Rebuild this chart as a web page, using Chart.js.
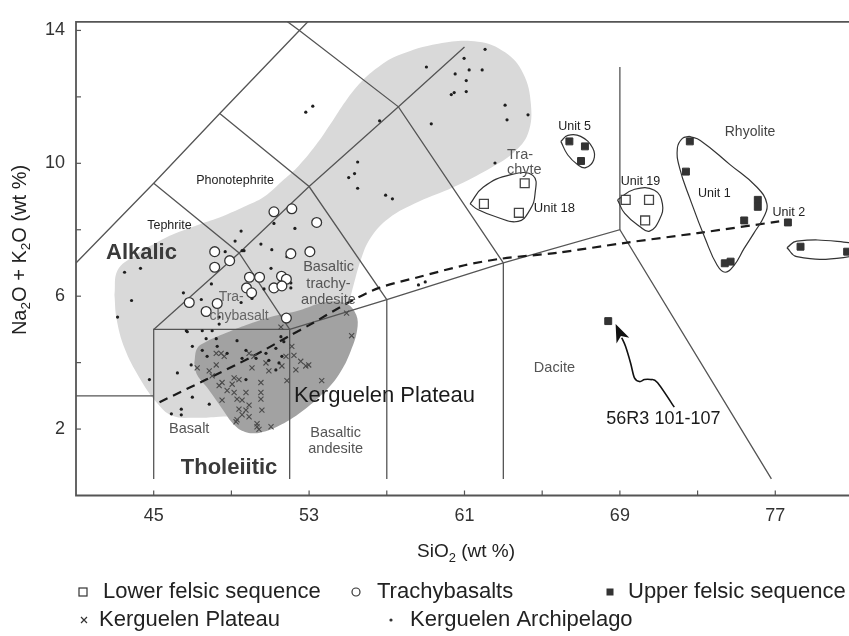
<!DOCTYPE html>
<html><head><meta charset="utf-8">
<script src="https://cdn.jsdelivr.net/npm/chart.js@4/dist/chart.umd.min.js"></script>
<style>html,body{margin:0;padding:0;background:#fff;overflow:hidden}#wrap{width:880px;height:636px}</style>
</head><body><div id="wrap"><canvas id="c" width="880" height="636" style="width:880px;height:636px"></canvas></div>
<script>
// ---------------- DATA (SiO2 wt%, Na2O+K2O wt%) ----------------
const xTickValues = [45,49,53,57,61,65,69,73,77,81];
const xLabelValues = [45,53,61,69,77];
const yTickValues = [2,4,6,8,10,12,14];
const yLabelValues = [2,6,10,14];

const lowerFelsic = [[64.1,9.40],[62.0,8.78],[63.8,8.51],[69.3,8.90],[70.5,8.90],[70.3,8.28]];
const upperFelsic = [[66.4,10.66],[67.2,10.51],[67.0,10.07],[72.6,10.66],[72.4,9.75],[76.1,8.90],[76.1,8.69],[75.4,8.28],[74.7,7.04],[74.4,6.99],[77.65,8.22],[78.3,7.49],[80.7,7.34],[68.4,5.25]];
const trachybasalts = [[51.19,8.54],[52.11,8.63],[53.39,8.22],[52.06,7.28],[53.04,7.34],[48.14,7.34],[48.91,7.07],[48.14,6.87],[49.93,6.57],[50.45,6.57],[51.58,6.60],[51.83,6.51],[49.78,6.25],[50.04,6.10],[51.19,6.25],[51.60,6.31],[46.83,5.81],[48.27,5.78],[47.70,5.54],[51.83,5.34]];
const kerguelenPlateau = [[47.24,3.84],[47.86,3.75],[48.22,4.28],[48.63,4.19],[48.52,3.40],[49.04,3.35],[48.78,3.16],[49.14,3.10],[48.52,2.87],[49.29,2.90],[49.75,3.10],[49.55,2.87],[49.91,2.72],[49.39,2.60],[49.75,2.57],[49.55,2.43],[49.29,2.28],[49.91,2.37],[50.52,3.40],[50.52,3.10],[50.52,2.90],[50.57,2.57],[50.32,2.16],[50.42,1.99],[51.04,2.07],[50.32,2.07],[49.91,4.28],[50.16,4.19],[50.78,3.99],[50.93,3.75],[51.60,3.90],[51.86,3.46],[52.22,4.22],[52.57,4.04],[52.83,3.90],[52.32,3.78],[52.98,3.93],[53.65,3.46],[54.93,5.49],[55.19,4.81],[51.55,5.07],[48.22,3.93],[49.14,3.54],[48.37,3.31],[48.01,3.60],[49.24,2.22],[51.81,4.19],[52.11,4.49],[48.47,4.28],[50.06,3.84],[49.39,3.49]];
const kerguelenArchipelago = [[62.06,13.43],[60.98,13.16],[61.24,12.81],[60.52,12.69],[61.91,12.81],[61.09,12.49],[59.04,12.90],[60.32,12.07],[60.47,12.13],[61.09,12.16],[63.09,11.75],[63.19,11.31],[64.27,11.46],[59.29,11.19],[56.63,11.28],[53.19,11.72],[52.83,11.54],[62.57,10.01],[55.50,10.04],[55.34,9.69],[55.04,9.57],[55.50,9.25],[56.94,9.04],[57.29,8.93],[52.27,8.04],[49.50,7.96],[51.19,8.19],[50.52,7.57],[51.08,7.40],[51.86,7.19],[49.55,7.37],[51.04,6.84],[52.06,6.40],[52.06,6.25],[50.68,6.22],[50.06,5.93],[58.63,6.34],[58.98,6.43],[49.19,7.66],[48.68,7.34],[43.50,6.72],[44.32,6.84],[47.97,6.37],[46.53,6.10],[47.45,5.90],[49.50,5.81],[43.86,5.87],[43.14,5.37],[46.68,4.96],[47.50,4.96],[48.01,4.96],[44.78,3.49],[45.91,2.46],[46.42,2.43],[46.42,2.60],[46.22,3.69],[46.93,3.93],[46.99,4.49],[46.73,4.93],[47.70,4.72],[48.22,4.72],[48.27,4.49],[47.75,4.19],[47.50,4.37],[49.29,4.66],[48.78,4.28],[49.55,4.13],[49.75,3.49],[49.75,4.37],[50.27,4.13],[50.78,4.28],[50.93,4.07],[51.29,4.43],[51.60,4.19],[51.45,3.99],[51.29,3.78],[51.70,4.63],[51.55,4.78],[46.99,2.96],[47.86,2.75],[48.37,5.37],[48.37,5.16],[49.65,7.37]];

// Fields (shaded envelopes)
const archipelagoField = [[42.98,6.04],[43.14,6.78],[44.01,7.22],[45.29,7.66],[46.16,7.90],[47.34,8.16],[48.52,8.40],[49.65,8.69],[50.68,8.99],[51.70,9.51],[52.47,9.93],[53.34,10.54],[54.11,11.19],[54.88,11.87],[55.70,12.46],[56.57,12.90],[57.60,13.25],[59.65,13.60],[61.70,13.66],[63.09,13.34],[64.01,12.72],[64.42,11.78],[64.27,10.90],[63.50,10.31],[62.37,9.87],[60.42,9.28],[58.63,8.84],[57.09,8.34],[56.16,7.75],[55.65,7.07],[55.29,6.34],[54.93,5.60],[54.01,4.43],[52.47,3.10],[49.91,2.46],[48.37,2.37],[47.09,2.34],[45.96,2.40],[45.14,2.81],[44.27,3.54],[43.50,4.43],[43.09,5.31]];
const plateauField = [[47.09,3.99],[47.24,4.43],[47.70,4.63],[48.88,4.93],[49.91,5.16],[51.19,5.40],[52.47,5.57],[53.75,5.81],[54.78,5.81],[55.34,5.54],[55.50,5.10],[55.14,4.34],[54.52,3.63],[53.65,3.04],[52.47,2.46],[51.45,2.10],[50.52,1.90],[49.80,1.90],[49.19,2.10],[48.47,2.66],[47.75,3.25],[47.24,3.63]];

// TAS classification boundaries
const tasBoundaries = [
  [[41,7],[45,9.4],[48.4,11.5],[52.5,14],[53.0,14.3]],
  [[41,3],[45,3]],
  [[45,0.5],[45,5],[52,5],[52,0.5]],
  [[52,5],[57,5.9],[63,7],[69,8],[76.8,0.5]],
  [[57,0.5],[57,5.9]],
  [[63,0.5],[63,7]],
  [[69,8],[69,12.9]],
  [[45,5],[49.4,7.3],[53,9.3],[57.6,11.7],[61,13.5]],
  [[52,5],[49.4,7.3],[45,9.4]],
  [[57,5.9],[53,9.3],[48.4,11.5]],
  [[63,7],[57.6,11.7],[52.5,14],[51.8,14.3]]
];
const alkalineDivide = [[45.3,2.81],[47.7,3.49],[50.1,4.19],[52.0,4.81],[53.1,5.16],[55.0,5.80],[56.6,6.25],[58.6,6.57],[61.0,6.93],[62.9,7.13],[65.8,7.31],[69.2,7.60],[73.0,7.90],[77.2,8.25]];

// Group outlines
const unit5Outline = [[65.96,10.66],[66.32,10.84],[66.98,10.81],[67.60,10.46],[67.65,10.10],[67.24,9.87],[66.83,9.96],[66.32,10.25]];
const unit18Outline = [[61.29,8.78],[61.96,9.28],[63.39,9.66],[64.53,9.63],[64.63,9.07],[64.37,8.60],[63.76,8.25],[62.58,8.40],[61.71,8.60]];
const unit19Outline = [[68.88,8.90],[69.76,9.22],[70.78,9.19],[71.19,8.78],[71.04,8.31],[70.53,7.96],[70.02,8.10],[69.25,8.49]];
const unit1Outline = [[72.58,10.81],[73.14,10.69],[74.67,9.96],[76.06,9.28],[76.57,8.78],[76.42,8.40],[75.90,7.90],[75.39,7.43],[74.88,6.93],[74.42,6.72],[74.01,6.93],[73.40,7.72],[72.63,8.90],[72.07,9.87],[71.96,10.46],[72.22,10.75]];
const unit2Outline = [[77.60,7.46],[78.11,7.66],[80.51,7.63],[81.70,7.46],[80.51,7.16],[78.11,7.19]];

// Annotation arrow (56R3 101-107)
const arrowPath = [[71.80,2.66],[70.93,3.40],[70.57,3.49],[70.27,3.49],[70.01,3.43],[69.75,3.54],[69.55,3.99],[69.29,4.49],[68.78,5.16]];

// Text labels (positions in data units)
const fieldLabels = [
  {t:'Phonotephrite', x:49.19, y:9.49, s:12.5, c:'#222'},
  {t:'Tephrite', x:45.81, y:8.13, s:12.5, c:'#222'},
  {t:'Alkalic', x:44.37, y:7.31, s:22, b:true, c:'#3a3a3a'},
  {t:'Tholeiitic', x:48.88, y:0.84, s:22, b:true, c:'#3a3a3a'},
  {t:'Basalt', x:46.83, y:2.01, s:14.5, c:'#555'},
  {t:'Basaltic\nandesite', x:54.37, y:1.63, s:14.5, c:'#555', lh:16},
  {t:'Basaltic\ntrachy-\nandesite', x:54.0, y:6.37, s:14.5, c:'#555', lh:16.5},
  {t:'Dacite', x:65.63, y:3.84, s:14.5, c:'#555'},
  {t:'Tra-\nchyte', x:63.19, y:10.03, s:14.5, c:'#555', lh:15, a:'left'},
  {t:'Tra-', x:48.99, y:5.96, s:14, c:'#666'},
  {t:'chybasalt', x:49.40, y:5.40, s:14, c:'#666'},
  {t:'Rhyolite', x:75.70, y:10.93, s:14, c:'#444'},
  {t:'Unit 5', x:66.67, y:11.10, s:12.5, c:'#222'},
  {t:'Unit 19', x:70.06, y:9.46, s:12.5, c:'#222'},
  {t:'Unit 1', x:73.86, y:9.10, s:12.5, c:'#222'},
  {t:'Unit 2', x:77.70, y:8.51, s:12.5, c:'#222'},
  {t:'Unit 18', x:65.63, y:8.63, s:13, c:'#222'},
  {t:'Kerguelen Plateau', x:56.88, y:3.01, s:22, c:'#1a1a1a'},
  {t:'56R3 101-107', x:71.24, y:2.31, s:18, c:'#1a1a1a'}
];
const legendItems = [
  {label:'Lower felsic sequence', sym:'openSquare'},
  {label:'Trachybasalts', sym:'openCircle'},
  {label:'Upper felsic sequence', sym:'filledSquare'},
  {label:'Kerguelen Plateau', sym:'cross'},
  {label:'Kerguelen Archipelago', sym:'dot'}
];

// ---------------- RENDERING ----------------
const FONT = '"Liberation Sans", Arial, Helvetica, sans-serif';
const toXY = a => a.map(p => ({x:p[0], y:p[1]}));
const closed = a => toXY(a.concat([a[0]]));

const datasets = [];
datasets.push({data: closed(archipelagoField), borderColor:'rgba(0,0,0,0)', borderWidth:0, backgroundColor:'#d9d9d9', fill:'shape', tension:0.4, pointRadius:0, order:100});
datasets.push({data: closed(plateauField), borderColor:'rgba(0,0,0,0)', borderWidth:0, backgroundColor:'#a2a2a2', fill:'shape', tension:0.4, pointRadius:0, order:95});
tasBoundaries.forEach(pl => datasets.push({data: toXY(pl), borderColor:'#555', borderWidth:1.3, fill:false, tension:0, pointRadius:0, order:80}));
datasets.push({data: toXY(alkalineDivide), borderColor:'#1a1a1a', borderWidth:2.2, borderDash:[9,6], fill:false, tension:0.3, pointRadius:0, order:70});
[unit5Outline, unit18Outline, unit19Outline, unit1Outline, unit2Outline].forEach(o => datasets.push({data: closed(o), borderColor:'#333', borderWidth:1.2, fill:false, tension:0.45, pointRadius:0, order:60}));
datasets.push({data: toXY(kerguelenPlateau), showLine:false, pointStyle:'crossRot', pointRadius:3.6, pointBorderColor:'#4a4a4a', pointBorderWidth:1.1, pointBackgroundColor:'#4a4a4a', order:50});
datasets.push({data: toXY(kerguelenArchipelago), showLine:false, pointStyle:'circle', pointRadius:1.6, pointBorderWidth:0, pointBackgroundColor:'#1e1e1e', pointBorderColor:'#1e1e1e', order:40});
datasets.push({data: toXY(trachybasalts), showLine:false, pointStyle:'circle', pointRadius:4.9, pointBorderWidth:1.3, pointBackgroundColor:'#fff', pointBorderColor:'#333', order:30});
datasets.push({data: toXY(lowerFelsic), showLine:false, pointStyle:'rect', pointRadius:6.3, pointBorderWidth:1.3, pointBackgroundColor:'#fff', pointBorderColor:'#444', order:20});
datasets.push({data: toXY(upperFelsic), showLine:false, pointStyle:'rect', pointRadius:4.9, pointBorderWidth:1, pointBackgroundColor:'#333', pointBorderColor:'#333', order:20});

function drawRich(ctx, segs, cx, cy, size, rot, color) {
  ctx.save(); ctx.translate(cx, cy); ctx.rotate(rot);
  ctx.fillStyle = color; ctx.textBaseline = 'middle'; ctx.textAlign = 'left';
  let total = 0; const ws = [];
  segs.forEach(s => { ctx.font = (s.sub ? size*0.68 : size) + 'px ' + FONT; const w = ctx.measureText(s.t).width; ws.push(w); total += w; });
  let x = -total/2;
  segs.forEach((s,i) => { ctx.font = (s.sub ? size*0.68 : size) + 'px ' + FONT; ctx.fillText(s.t, x, s.sub ? size*0.32 : 0); x += ws[i]; });
  ctx.restore();
}

const decor = {
  id:'decor',
  afterDatasetsDraw(chart) {
    const {ctx, chartArea:ca, scales:{x, y}} = chart;
    ctx.save();
    // frame
    ctx.strokeStyle = '#555'; ctx.lineWidth = 1.8;
    ctx.beginPath();
    ctx.moveTo(ca.right + 5, ca.top); ctx.lineTo(ca.left, ca.top); ctx.lineTo(ca.left, ca.bottom); ctx.lineTo(ca.right + 5, ca.bottom);
    ctx.stroke();
    // inward ticks
    ctx.lineWidth = 1.2;
    xTickValues.forEach(v => { const px = x.getPixelForValue(v); ctx.beginPath(); ctx.moveTo(px, ca.bottom); ctx.lineTo(px, ca.bottom - 5); ctx.stroke(); });
    yTickValues.forEach(v => { const py = y.getPixelForValue(v); ctx.beginPath(); ctx.moveTo(ca.left, py); ctx.lineTo(ca.left + 5, py); ctx.stroke(); });
    // arrow
    const pts = arrowPath.map(p => [x.getPixelForValue(p[0]), y.getPixelForValue(p[1])]);
    const tip = pts[pts.length-1], prev = pts[pts.length-2];
    const ang = Math.atan2(tip[1]-prev[1], tip[0]-prev[0]);
    const headL = 18, headW = 7;
    const base = [tip[0] - headL*Math.cos(ang), tip[1] - headL*Math.sin(ang)];
    const line = pts.slice(0, -1).concat([[base[0] + 3*Math.cos(ang), base[1] + 3*Math.sin(ang)]]);
    ctx.strokeStyle = '#111'; ctx.lineWidth = 1.6; ctx.beginPath(); ctx.moveTo(line[0][0], line[0][1]);
    for (let i = 0; i < line.length - 1; i++) {
      const p0 = line[Math.max(0,i-1)], p1 = line[i], p2 = line[i+1], p3 = line[Math.min(line.length-1, i+2)];
      ctx.bezierCurveTo(p1[0] + (p2[0]-p0[0])/6, p1[1] + (p2[1]-p0[1])/6, p2[0] - (p3[0]-p1[0])/6, p2[1] - (p3[1]-p1[1])/6, p2[0], p2[1]);
    }
    ctx.stroke();
    ctx.fillStyle = '#111'; ctx.beginPath();
    ctx.moveTo(tip[0], tip[1]);
    ctx.lineTo(base[0] + headW*Math.sin(ang), base[1] - headW*Math.cos(ang));
    ctx.lineTo(base[0] + 5*Math.cos(ang), base[1] + 5*Math.sin(ang));
    ctx.lineTo(base[0] - headW*Math.sin(ang), base[1] + headW*Math.cos(ang));
    ctx.closePath(); ctx.fill();
    // field labels
    ctx.textBaseline = 'middle';
    fieldLabels.forEach(l => {
      ctx.font = (l.b ? 'bold ' : '') + l.s + 'px ' + FONT;
      ctx.fillStyle = l.c; ctx.textAlign = l.a || 'center';
      const lines = l.t.split('\n'); const lh = l.lh || l.s*1.15;
      const px = x.getPixelForValue(l.x), py = y.getPixelForValue(l.y);
      lines.forEach((s,i) => ctx.fillText(s, px, py + (i - (lines.length-1)/2)*lh));
    });
    // axis titles
    drawRich(ctx, [{t:'SiO'},{t:'2',sub:true},{t:' (wt %)'}], 466, 552, 19, 0, '#222');
    drawRich(ctx, [{t:'Na'},{t:'2',sub:true},{t:'O + K'},{t:'2',sub:true},{t:'O (wt %)'}], 20, 250, 20, -Math.PI/2, '#222');
    // legend
    const pos = [[83,103,592],[356,377,592],[610,628,592],[84,99,620],[391,410,620]];
    legendItems.forEach((it,i) => {
      const [sx, tx, ly] = pos[i];
      ctx.lineWidth = 1.2; ctx.strokeStyle = '#333'; ctx.fillStyle = '#333';
      if (it.sym === 'openSquare') { ctx.fillStyle='#fff'; ctx.fillRect(sx-4, ly-4, 8, 8); ctx.strokeRect(sx-4, ly-4, 8, 8); }
      else if (it.sym === 'openCircle') { ctx.beginPath(); ctx.arc(sx, ly, 4, 0, 2*Math.PI); ctx.stroke(); }
      else if (it.sym === 'filledSquare') { ctx.fillRect(sx-3.5, ly-3.5, 7, 7); }
      else if (it.sym === 'cross') { ctx.beginPath(); ctx.moveTo(sx-3, ly-3); ctx.lineTo(sx+3, ly+3); ctx.moveTo(sx+3, ly-3); ctx.lineTo(sx-3, ly+3); ctx.stroke(); }
      else { ctx.beginPath(); ctx.arc(sx, ly, 1.6, 0, 2*Math.PI); ctx.fill(); }
      ctx.fillStyle = '#222'; ctx.font = '22px ' + FONT; ctx.textAlign = 'left'; ctx.textBaseline = 'middle';
      ctx.fillText(it.label, tx, ly);
    });
    ctx.restore();
  }
};

new Chart(document.getElementById('c'), {
  type: 'line',
  data: { datasets },
  plugins: [decor],
  options: {
    responsive: false, animation: false, devicePixelRatio: 1, events: [],
    layout: { padding: { top: 10.5, right: 4.5, bottom: 0, left: 0 } },
    plugins: { legend: { display: false }, tooltip: { enabled: false } },
    scales: {
      x: {
        type: 'linear', min: 41, max: 82,
        grid: { display: false, drawTicks: false }, border: { display: false },
        afterBuildTicks: s => { s.ticks = xTickValues.map(v => ({value: v})); },
        afterFit: s => { s.height = 140.5; },
        ticks: { padding: 10, color: '#333', autoSkip: false, maxRotation: 0, font: { family: FONT, size: 18 },
          callback: v => xLabelValues.includes(v) ? String(v) : '' }
      },
      y: {
        type: 'linear', min: 0, max: 14.26,
        grid: { display: false, drawTicks: false }, border: { display: false },
        afterBuildTicks: s => { s.ticks = yTickValues.map(v => ({value: v})); },
        afterFit: s => { s.width = 76; },
        ticks: { padding: 11, color: '#333', autoSkip: false, font: { family: FONT, size: 18 },
          callback: v => yLabelValues.includes(v) ? String(v) : '' }
      }
    }
  }
});
</script></body></html>
